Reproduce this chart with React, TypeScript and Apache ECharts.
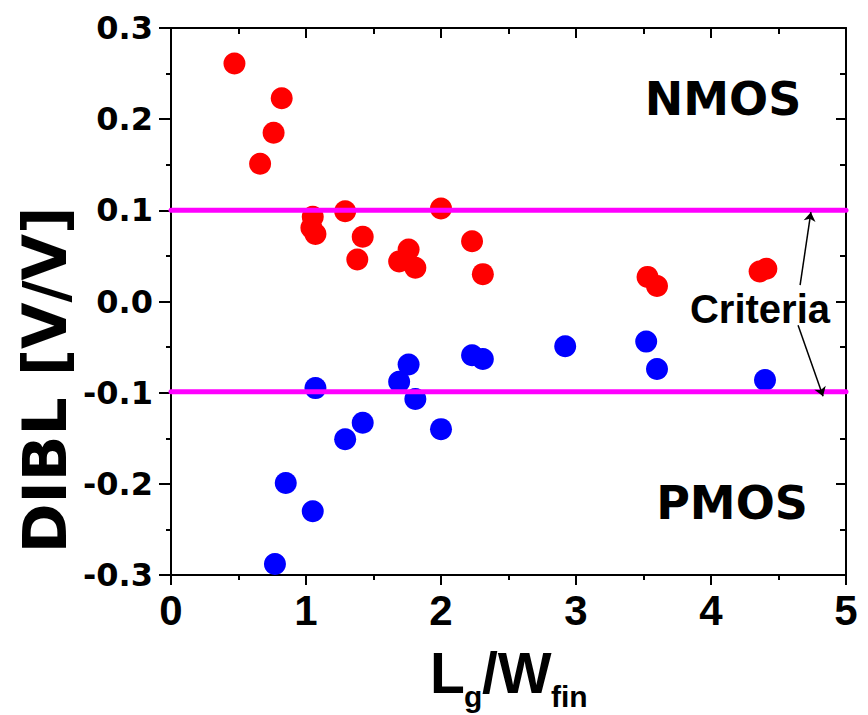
import React, { useEffect, useRef } from "react";
import * as echarts from "echarts";

const nmosX = [0.47, 0.66, 0.76, 0.82, 1.04, 1.05, 1.07, 1.29, 1.38, 1.42, 1.69, 1.76, 1.81, 2.0, 2.23, 2.31, 3.53, 3.6, 4.36, 4.41];
const nmosY = [0.261, 0.151, 0.185, 0.223, 0.081, 0.093, 0.074, 0.099, 0.046, 0.071, 0.044, 0.057, 0.037, 0.102, 0.066, 0.03, 0.027, 0.017, 0.033, 0.036];
const pmosX = [0.77, 0.85, 1.05, 1.07, 1.29, 1.42, 1.69, 1.76, 1.81, 2.0, 2.23, 2.31, 2.92, 3.52, 3.6, 4.4];
const pmosY = [-0.288, -0.199, -0.23, -0.095, -0.151, -0.133, -0.088, -0.069, -0.107, -0.14, -0.059, -0.063, -0.049, -0.044, -0.074, -0.086];
const criteriaLevels = [0.1, -0.099];
const xRange = [0, 5];
// annotation arrows in data units: [startX, startY, endX, endY]
const arrows = [
  [4.66, 0.018, 4.74, 0.098],
  [4.645, -0.026, 4.83, -0.104],
];

export default function App() {
  const ref = useRef<HTMLDivElement>(null);
  useEffect(() => {
    if (!ref.current) return;
    const chart = echarts.init(ref.current, null, { renderer: "svg" });
    const axisLine = { lineStyle: { color: "#000", width: 2 } };
    chart.setOption({
      animation: false,
      backgroundColor: "#fff",
      grid: { left: 171, right: 22, top: 28, bottom: 140, containLabel: false },
      xAxis: [
        {
          type: "value",
          min: 0,
          max: 5,
          interval: 1,
          position: "bottom",
          axisLine: { ...axisLine, onZero: false },
          axisTick: { show: true, length: 10, lineStyle: { color: "#000", width: 2 } },
          minorTick: { show: true, splitNumber: 2, length: 5, lineStyle: { color: "#000", width: 2 } },
          splitLine: { show: false },
          axisLabel: {
            margin: 14,
            color: "#000",
            fontFamily: "Liberation Sans",
            fontWeight: "bold",
            fontSize: 42,
          },
        },
        {
          type: "value",
          min: 0,
          max: 5,
          interval: 1,
          position: "top",
          axisLine: { ...axisLine, onZero: false },
          axisTick: { show: true, inside: true, length: 10, lineStyle: { color: "#000", width: 2 } },
          minorTick: { show: true, splitNumber: 2, length: 6, lineStyle: { color: "#000", width: 2 } },
          splitLine: { show: false },
          axisLabel: { show: false },
        },
      ],
      yAxis: [
        {
          type: "value",
          min: -0.3,
          max: 0.3,
          interval: 0.1,
          position: "left",
          axisLine: { ...axisLine, onZero: false },
          axisTick: { show: true, length: 12, lineStyle: { color: "#000", width: 2 } },
          minorTick: { show: true, splitNumber: 2, length: 5, lineStyle: { color: "#000", width: 2 } },
          splitLine: { show: false },
          axisLabel: {
            margin: 18,
            color: "#000",
            fontFamily: "DejaVu Sans",
            fontWeight: "bold",
            fontSize: 32,
            padding: [0, 0, 8, 0],
            formatter: (v: number) => (Math.abs(v) < 1e-9 ? "0.0" : v.toFixed(1)),
          },
        },
        {
          type: "value",
          min: -0.3,
          max: 0.3,
          interval: 0.1,
          position: "right",
          axisLine: { ...axisLine, onZero: false },
          axisTick: { show: true, inside: true, length: 10, lineStyle: { color: "#000", width: 2 } },
          minorTick: { show: true, splitNumber: 2, length: 6, lineStyle: { color: "#000", width: 2 } },
          splitLine: { show: false },
          axisLabel: { show: false },
        },
      ],
      series: [
        {
          type: "scatter",
          name: "NMOS",
          symbol: "circle",
          symbolSize: 22,
          itemStyle: { color: "#FF0000", opacity: 1 },
          data: nmosX.map((x, i) => [x, nmosY[i]]),
          z: 2,
        },
        {
          type: "scatter",
          name: "PMOS",
          symbol: "circle",
          symbolSize: 22,
          itemStyle: { color: "#0000FF", opacity: 1 },
          data: pmosX.map((x, i) => [x, pmosY[i]]),
          z: 2,
        },
        ...criteriaLevels.map((lvl) => ({
          type: "line",
          name: "Criteria",
          data: [
            [xRange[0], lvl],
            [xRange[1], lvl],
          ],
          symbol: "none",
          lineStyle: { color: "#FF00FF", width: 5, cap: "round" },
          z: 3,
        })),
        {
          type: "lines",
          coordinateSystem: "cartesian2d",
          symbol: ["none", "arrow"],
          symbolSize: 9,
          lineStyle: { color: "#000", width: 1.5, opacity: 1 },
          data: arrows.map((a) => ({
            coords: [
              [a[0], a[1]],
              [a[2], a[3]],
            ],
          })),
          z: 4,
        },
      ],
      graphic: [
        {
          type: "text",
          x: 723,
          y: 99,
          style: {
            text: "NMOS",
            fill: "#000",
            font: "bold 46px 'DejaVu Sans'",
            align: "center",
            verticalAlign: "middle",
          },
        },
        {
          type: "text",
          x: 732,
          y: 503,
          style: {
            text: "PMOS",
            fill: "#000",
            font: "bold 46px 'DejaVu Sans'",
            align: "center",
            verticalAlign: "middle",
          },
        },
        {
          type: "text",
          x: 760,
          y: 309,
          z: 10,
          style: {
            text: "Criteria",
            fill: "#000",
            font: "bold 40px 'Liberation Sans'",
            align: "center",
            verticalAlign: "middle",
          },
        },
        {
          type: "text",
          x: 45,
          y: 380,
          rotation: Math.PI / 2,
          style: {
            text: "DIBL [V/V]",
            fill: "#000",
            font: "bold 60px 'DejaVu Sans'",
            align: "center",
            verticalAlign: "middle",
          },
        },
        {
          type: "text",
          x: 430,
          y: 673,
          style: { text: "L", fill: "#000", font: "bold 57px 'Liberation Sans'", align: "left", verticalAlign: "middle" },
        },
        {
          type: "text",
          x: 464,
          y: 696,
          style: { text: "g", fill: "#000", font: "bold 30px 'Liberation Sans'", align: "left", verticalAlign: "middle" },
        },
        {
          type: "text",
          x: 482,
          y: 673,
          style: { text: "/W", fill: "#000", font: "bold 57px 'Liberation Sans'", align: "left", verticalAlign: "middle" },
        },
        {
          type: "text",
          x: 551,
          y: 696,
          style: { text: "fin", fill: "#000", font: "bold 30px 'Liberation Sans'", align: "left", verticalAlign: "middle" },
        },
      ],
    });
    return () => chart.dispose();
  }, []);
  return <div ref={ref} style={{ width: 868, height: 715, position: "absolute", left: 0, top: 0 }} />;
}
